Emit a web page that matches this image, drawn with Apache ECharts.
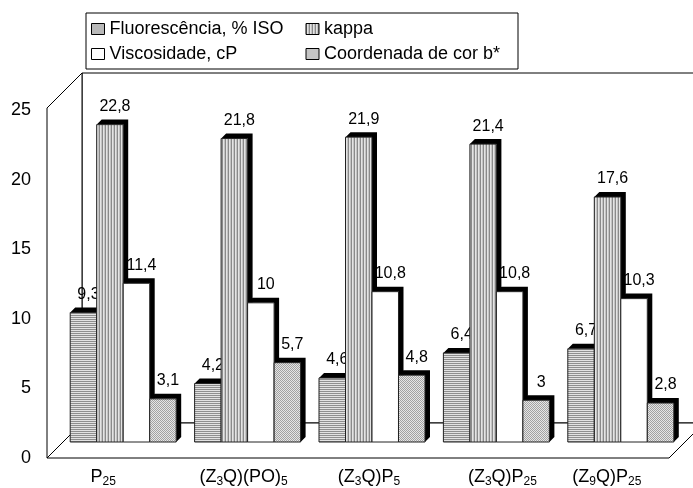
<!DOCTYPE html>
<html>
<head>
<meta charset="utf-8">
<script src="https://cdn.jsdelivr.net/npm/echarts@6/dist/echarts.min.js"></script>
<style>
  html, body { margin: 0; padding: 0; background: #fff; }
  #chart { width: 693px; height: 488px; }
</style>
</head>
<body>
<div id="chart"></div>
<script>
// Categories (subscripts written as _{..}) and the four measured series
const categories = ['P_{25}', '(Z_{3}Q)(PO)_{5}', '(Z_{3}Q)P_{5}', '(Z_{3}Q)P_{25}', '(Z_{9}Q)P_{25}'];
const seriesNames = ['Fluorescência, % ISO', 'kappa', 'Viscosidade, cP', 'Coordenada de cor b*'];
const fluorescencia = [9.3, 4.2, 4.6, 6.4, 6.7];
const kappa = [22.8, 21.8, 21.9, 21.4, 17.6];
const viscosidade = [11.4, 10, 10.8, 10.8, 10.3];
const corB = [3.1, 5.7, 4.8, 3, 2.8];
const yMin = 0, yMax = 25, yStep = 5;

const FONT = '"Liberation Sans", Arial, sans-serif';

// Hatched fills built on small canvases
function makePattern(w, h, paint) {
  const c = document.createElement('canvas');
  c.width = w; c.height = h;
  paint(c.getContext('2d'));
  return { image: c, repeat: 'repeat' };
}
const fillHoriz = makePattern(2, 2, g => {
  g.fillStyle = '#e2e2e2'; g.fillRect(0, 0, 2, 2);
  g.fillStyle = '#8e8e8e'; g.fillRect(0, 1, 2, 1);
});
const fillVert = makePattern(3, 2, g => {
  g.fillStyle = '#e4e4e4'; g.fillRect(0, 0, 3, 2);
  g.fillStyle = '#8a8a8a'; g.fillRect(0, 0, 1, 2);
  g.fillStyle = '#c4c4c4'; g.fillRect(2, 0, 1, 2);
});
const fillDots = makePattern(2, 2, g => {
  g.fillStyle = '#e6e6e6'; g.fillRect(0, 0, 2, 2);
  g.fillStyle = '#a2a2a2'; g.fillRect(0, 0, 1, 1); g.fillRect(1, 1, 1, 1);
});
const fills = [fillHoriz, fillVert, '#ffffff', fillDots];
const values = [fluorescencia, kappa, viscosidade, corB];

// Pseudo-3D geometry (pixels)
const WALL_DEPTH = 35;      // depth of floor / side wall
const PLANE_DX = 14, PLANE_DY = -16; // bar row sits inside the box
const BAR_FRAC = 0.213;     // one bar as a share of a category band
const BAR_DEPTH = 5;        // black extrusion of each bar

const fmt = v => String(v).replace('.', ',');

function wallRenderer(params, api) {
  const band = api.size([1, 0])[0];
  const first = api.coord([0, yMin]);
  const last = api.coord([categories.length - 1, yMin]);
  const top = api.coord([0, yMax])[1] - 2;
  const L = first[0] - band / 2, R = last[0] + band / 2, B = first[1];
  const D = WALL_DEPTH;
  const line = { stroke: '#000', lineWidth: 1, fill: '#fff' };
  return {
    type: 'group',
    children: [
      { type: 'polygon', shape: { points: [[L + D, top - D], [R + D, top - D], [R + D, B - D], [L + D, B - D]] }, style: line },
      { type: 'polygon', shape: { points: [[L, B], [L, top], [L + D, top - D], [L + D, B - D]] }, style: line },
      { type: 'polygon', shape: { points: [[L, B], [R, B], [R + D, B - D], [L + D, B - D]] }, style: line }
    ]
  };
}

function barRenderer(k) {
  return function (params, api) {
    const cat = api.value(0), val = api.value(1);
    const base = api.coord([cat, 0]);
    const top = api.coord([cat, val]);
    const band = api.size([1, 0])[0];
    const w = band * BAR_FRAC;
    const x0 = base[0] - 2 * w + k * w + PLANE_DX;
    const x1 = x0 + w;
    const yb = base[1] + PLANE_DY;
    const yt = top[1] + PLANE_DY;
    const d = BAR_DEPTH;
    return {
      type: 'group',
      children: [
        { type: 'polygon',
          shape: { points: [[x0, yt], [x0 + d, yt - d], [x1 + d, yt - d], [x1 + d, yb - d], [x1, yb], [x1, yt]] },
          style: { fill: '#000' } },
        { type: 'rect', shape: { x: x0, y: yt, width: w, height: yb - yt },
          style: { fill: fills[k], stroke: '#222', lineWidth: 1 } },
        { type: 'text',
          style: { text: fmt(val), x: (x0 + x1) / 2 + 5, y: yt - 18, align: 'center', verticalAlign: 'middle',
                   fontSize: 16, fontFamily: FONT, fill: '#000' } }
      ]
    };
  };
}

// category label markup -> rich text
function richLabel(s) {
  return s.replace(/_\{(\w+)\}/g, '{s|$1}');
}
const labelNudge = [-12, 20, 22, 40, 0];

const chart = echarts.init(document.getElementById('chart'), null, { renderer: 'canvas' });
chart.setOption({
  animation: false,
  backgroundColor: '#ffffff',
  textStyle: { fontFamily: FONT, color: '#000' },
  legend: {
    left: 86, top: 13,
    width: 425,
    orient: 'horizontal',
    padding: [6, 3, 5, 5],
    borderColor: '#000', borderWidth: 1,
    itemWidth: 13, itemHeight: 11, itemGap: 5,
    selectedMode: false,
    textStyle: { fontFamily: FONT, fontSize: 18, color: '#000', width: 191, lineHeight: 20 },
    data: seriesNames.map((n, i) => ({
      name: n, icon: 'rect',
      itemStyle: { color: fills[i], borderColor: '#000', borderWidth: 1 }
    }))
  },
  grid: { left: 47, right: 24, top: 110, bottom: 28, containLabel: false },
  xAxis: {
    type: 'category',
    data: categories.map((c, i) => ({
      value: c,
      textStyle: labelNudge[i] >= 0 ? { padding: [0, 0, 0, labelNudge[i]] } : { padding: [0, -labelNudge[i], 0, 0] }
    })),
    boundaryGap: true,
    axisLine: { show: false },
    axisTick: { show: false },
    splitLine: { show: false },
    axisLabel: {
      margin: 8, fontSize: 18, fontFamily: FONT, color: '#000', lineHeight: 22,
      interval: 0,
      formatter: v => richLabel(v),
      rich: { s: { fontSize: 12, fontFamily: FONT, color: '#000', verticalAlign: 'bottom', lineHeight: 12 } }
    }
  },
  yAxis: {
    type: 'value', min: yMin, max: yMax, interval: yStep,
    axisLine: { show: false },
    axisTick: { show: false },
    splitLine: { show: false },
    axisLabel: { margin: 16, fontSize: 18, fontFamily: FONT, color: '#000' }
  },
  series: [
    { type: 'custom', name: '__walls', renderItem: wallRenderer, data: [[0, 0]], clip: false, z: 1, silent: true, legendHoverLink: false },
    ...seriesNames.map((n, k) => ({
      type: 'custom', name: n,
      renderItem: barRenderer(k),
      itemStyle: { color: fills[k] },
      encode: { x: 0, y: 1 },
      data: values[k].map((v, i) => [i, v]),
      clip: false, z: 2
    }))
  ]
});
</script>
</body>
</html>
